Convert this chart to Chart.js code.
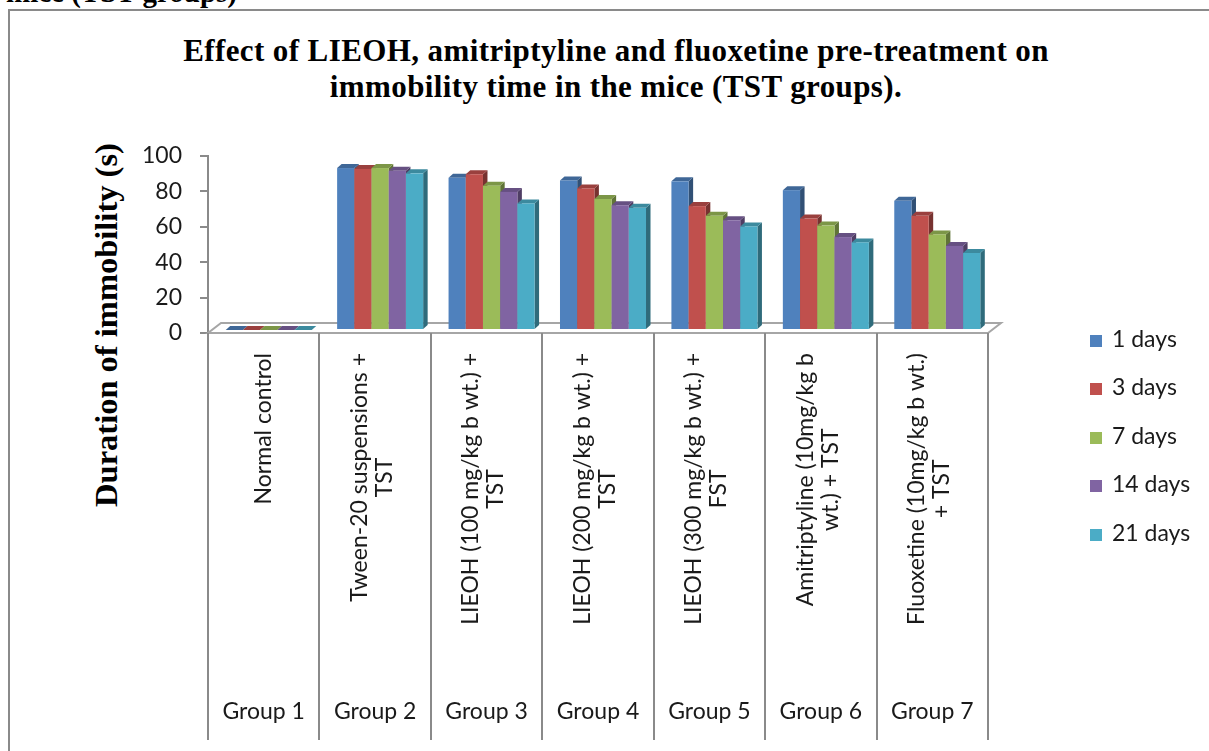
<!DOCTYPE html>
<html>
<head>
<meta charset="utf-8">
<script src="https://cdn.jsdelivr.net/npm/chart.js@4/dist/chart.umd.min.js"></script>
<style>
  html, body { margin: 0; padding: 0; background: #fff; }
  body { width: 1209px; height: 751px; position: relative; overflow: hidden; }
  .frame { position: absolute; left: 8px; top: 9px; width: 1300px; height: 800px;
           border: 2px solid #8a8a8a; box-sizing: border-box; }
  .caption { position: absolute; left: 6px; top: -24px; white-space: nowrap;
             font: bold 29px "Liberation Serif", "Times New Roman", serif; color: #000; }
  .title { position: absolute; left: 0; top: 33px; width: 1232px; text-align: center;
           font: bold 31px/36px "Liberation Serif", "Times New Roman", serif; letter-spacing: 0.4px; color: #000; }
  .ytitle { position: absolute; left: 106px; top: 325px; white-space: nowrap;
            transform: translate(-50%, -50%) rotate(-90deg);
            font: bold 32.5px "Liberation Serif", "Times New Roman", serif; color: #000; }
  canvas { position: absolute; left: 0; top: 0; }
  .legend { position: absolute; left: 1090px; top: 0; }
  .legend div { position: absolute; left: 0; white-space: nowrap; height: 26px; line-height: 26px;
                font: 23px Lato, sans-serif; color: #1a1a1a; }
  .legend span { display: inline-block; width: 12px; height: 12px; margin-right: 10px; vertical-align: 0; }
</style>
</head>
<body>
<div class="frame"></div>
<div class="caption">mice (TST groups)</div>
<div class="title">Effect of LIEOH, amitriptyline and fluoxetine pre-treatment on<br>immobility time in the mice (TST groups).</div>
<div class="ytitle">Duration of immobility (s)</div>
<canvas id="chart" width="1209" height="751"></canvas>
<div class="legend" id="legend"></div>
<script>
// Groups along the category axis
const groupNames = ['Group 1', 'Group 2', 'Group 3', 'Group 4', 'Group 5', 'Group 6', 'Group 7'];
// Treatment description of each group (one entry per text line)
const treatmentLabels = [
  ['Normal control'],
  ['Tween-20 suspensions +', 'TST'],
  ['LIEOH (100 mg/kg b wt.) +', 'TST'],
  ['LIEOH (200 mg/kg b wt.) +', 'TST'],
  ['LIEOH (300 mg/kg b wt.) +', 'FST'],
  ['Amitriptyline (10mg/kg b', 'wt.) + TST'],
  ['Fluoxetine (10mg/kg b wt.)', '+ TST']
];
// Duration of immobility (s) per treatment day
const seriesNames = ['1 days', '3 days', '7 days', '14 days', '21 days'];
const day1  = [0, 91.5, 86, 84.5, 84, 79, 73];
const day3  = [0, 91, 88, 80, 70, 63, 64.5];
const day7  = [0, 91.5, 81.5, 74, 64.5, 59, 54];
const day14 = [0, 90, 78, 70.5, 62, 52.5, 47.5];
const day21 = [0, 88.5, 71.5, 69, 58.5, 49.5, 43.5];
const seriesValues = [day1, day3, day7, day14, day21];
const seriesColors = ['#4F81BD', '#C0504D', '#9BBB59', '#8064A2', '#4BACC6'];
const yTicks = { min: 0, max: 100, step: 20 };

const labelFont = '23px Lato, sans-serif';
const textColor = '#1a1a1a';
const lineColor = '#8a8a8a';

// 3-D projection of the column chart
const barDepth = { x: 4.5, y: 4 };     // receding edge of each column
const barShift = { x: 5, y: -3 };      // columns stand a little behind the floor front edge
const floorDepth = { x: 13, y: 10 };

function shade(hex, f) {
  const n = parseInt(hex.slice(1), 16);
  const r = Math.round(((n >> 16) & 255) * f);
  const g = Math.round(((n >> 8) & 255) * f);
  const b = Math.round((n & 255) * f);
  return `rgb(${r},${g},${b})`;
}

function poly(ctx, pts, fill) {
  ctx.beginPath();
  ctx.moveTo(pts[0][0], pts[0][1]);
  for (let i = 1; i < pts.length; i++) ctx.lineTo(pts[i][0], pts[i][1]);
  ctx.closePath();
  ctx.fillStyle = fill;
  ctx.fill();
}

const columns3d = {
  id: 'columns3d',
  beforeDatasetsDraw(chart) {
    const { ctx, chartArea: a } = chart;
    ctx.save();
    // floor slab
    ctx.beginPath();
    ctx.moveTo(a.left, a.bottom);
    ctx.lineTo(a.right, a.bottom);
    ctx.lineTo(a.right + floorDepth.x, a.bottom - floorDepth.y);
    ctx.lineTo(a.left + floorDepth.x, a.bottom - floorDepth.y);
    ctx.closePath();
    ctx.fillStyle = '#ffffff';
    ctx.fill();
    ctx.strokeStyle = '#a6a6a6';
    ctx.lineWidth = 2;
    ctx.stroke();

    // columns, left to right so each front face hides its neighbour's side face
    const metas = chart.getSortedVisibleDatasetMetas().slice().sort((p, q) => p.index - q.index);
    const n = chart.data.labels.length;
    for (let i = 0; i < n; i++) {
      metas.forEach(meta => {
        const el = meta.data[i];
        const p = el.getProps(['x', 'y', 'base', 'width'], true);
        const col = chart.data.datasets[meta.index].backgroundColor;
        const l = p.x - p.width / 2 + barShift.x;
        const r = p.x + p.width / 2 + barShift.x;
        const t = p.y + barShift.y;
        const b = p.base + barShift.y;
        const dx = barDepth.x, dy = barDepth.y;
        poly(ctx, [[r, t], [r + dx, t - dy], [r + dx, b - dy], [r, b]], shade(col, 0.62));
        poly(ctx, [[l, t], [r, t], [r + dx, t - dy], [l + dx, t - dy]], shade(col, 0.8));
        ctx.fillStyle = col;
        ctx.fillRect(l, t, r - l, b - t);
      });
    }
    ctx.restore();
    return false;
  },
  afterDraw(chart) {
    const { ctx, chartArea: a } = chart;
    const xs = chart.scales.x;
    const c0 = xs.getPixelForValue(0);
    const step = xs.getPixelForValue(1) - c0;
    const bottom = 740;
    ctx.save();
    // category separators below the floor
    ctx.strokeStyle = lineColor;
    ctx.lineWidth = 2;
    for (let k = 0; k <= groupNames.length; k++) {
      const x = Math.round(c0 - step / 2 + k * step);
      ctx.beginPath();
      ctx.moveTo(x, a.bottom);
      ctx.lineTo(x, bottom);
      ctx.stroke();
    }
    ctx.fillStyle = textColor;
    ctx.font = labelFont;
    // rotated treatment labels, hanging from the axis
    const lineH = 25;
    const top = 353;
    treatmentLabels.forEach((lines, i) => {
      const cx = xs.getPixelForValue(i) - (lines.length > 1 ? 3 : 0);
      const maxW = Math.max(...lines.map(s => ctx.measureText(s).width));
      ctx.save();
      ctx.translate(cx, top + maxW / 2);
      ctx.rotate(-Math.PI / 2);
      ctx.textAlign = 'center';
      ctx.textBaseline = 'middle';
      lines.forEach((s, j) => ctx.fillText(s, 0, (j - (lines.length - 1) / 2) * lineH));
      ctx.restore();
    });
    // group names
    ctx.textAlign = 'center';
    ctx.textBaseline = 'middle';
    groupNames.forEach((g, i) => ctx.fillText(g, xs.getPixelForValue(i), 712));
    ctx.restore();
  }
};

function build() {
  new Chart(document.getElementById('chart'), {
    type: 'bar',
    data: {
      labels: groupNames,
      datasets: seriesNames.map((name, k) => ({
        label: name,
        data: seriesValues[k],
        backgroundColor: seriesColors[k],
        categoryPercentage: 0.772,
        barPercentage: 1.0
      }))
    },
    options: {
      responsive: false,
      animation: false,
      layout: { padding: { left: 128, right: 221, top: 156, bottom: 418 } },
      plugins: { legend: { display: false }, title: { display: false }, tooltip: { enabled: false } },
      scales: {
        x: { display: false, offset: true },
        y: {
          min: yTicks.min, max: yTicks.max,
          ticks: { stepSize: yTicks.step, padding: 18, color: textColor, font: { family: 'Lato', size: 23 } },
          grid: { drawOnChartArea: false, drawTicks: true, tickLength: 8, color: lineColor, lineWidth: 2 },
          border: { display: true, color: lineColor, width: 2 },
          afterFit(s) { s.width = 80; }
        }
      }
    },
    plugins: [columns3d]
  });

  // legend
  const legend = document.getElementById('legend');
  const rowY = [337, 385, 434, 482, 531];
  seriesNames.forEach((name, k) => {
    const row = document.createElement('div');
    row.style.top = (rowY[k] - 13) + 'px';
    const sw = document.createElement('span');
    sw.style.background = seriesColors[k];
    row.appendChild(sw);
    row.appendChild(document.createTextNode(name));
    legend.appendChild(row);
  });
}

if (document.fonts && document.fonts.load) {
  Promise.all([document.fonts.load('23px Lato'), document.fonts.load('bold 28px "Liberation Serif"')])
    .then(build, build);
} else {
  build();
}
</script>
</body>
</html>
